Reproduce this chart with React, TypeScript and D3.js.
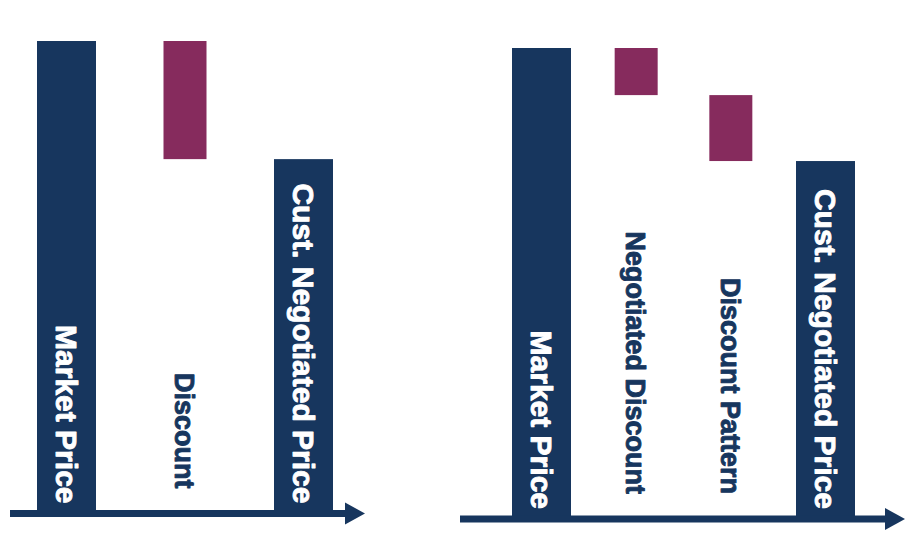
import React from "react";
import * as d3 from "d3";

// Left waterfall: market price less a single discount
const leftCategories = ["Market Price", "Discount", "Cust. Negotiated Price"];
const leftValues = [100, -25, 75];
const leftKinds = ["total", "delta", "total"];

// Right waterfall: discount split into negotiated part and pattern part
const rightCategories = [
  "Market Price",
  "Negotiated Discount",
  "Discount Pattern",
  "Cust. Negotiated Price",
];
const rightValues = [100, -10, -14, 76];
const rightKinds = ["total", "delta", "delta", "total"];

const NAVY = "#17365e";
const PLUM = "#862b5d";
const FONT = "'Liberation Sans', Arial, Helvetica, sans-serif";

type Panel = {
  categories: string[];
  values: number[];
  kinds: string[];
  xRange: [number, number]; // centres of first and last bar
  axisY: number;
  topY: number;
  axisStart: number;
  arrowTip: number;
};

type Step = { name: string; kind: string; lo: number; hi: number };

function waterfall(categories: string[], values: number[], kinds: string[]): Step[] {
  let running = 0;
  return categories.map((name, i) => {
    const v = values[i];
    const kind = kinds[i];
    if (kind === "total") {
      running = v;
      return { name, kind, lo: 0, hi: v };
    }
    const start = running;
    running = start + v;
    return { name, kind, lo: Math.min(start, running), hi: Math.max(start, running) };
  });
}

function WaterfallPanel({ p }: { p: Panel }) {
  const steps = waterfall(p.categories, p.values, p.kinds);
  const x = d3.scalePoint<string>().domain(p.categories).range(p.xRange);
  const y = d3.scaleLinear().domain([0, 100]).range([p.axisY, p.topY]);
  const totalWidth = 59;
  const deltaWidth = 43;
  const lineW = 7;
  const headLen = 20;
  const headHalf = 11;

  return (
    <g>
      {steps.map((s) => {
        const w = s.kind === "total" ? totalWidth : deltaWidth;
        const cx = x(s.name) as number;
        return (
          <rect
            key={s.name}
            x={cx - w / 2}
            y={y(s.hi)}
            width={w}
            height={y(s.lo) - y(s.hi)}
            fill={s.kind === "total" ? NAVY : PLUM}
          />
        );
      })}
      {/* baseline with arrow */}
      <line
        x1={p.axisStart}
        x2={p.arrowTip - headLen + 2}
        y1={p.axisY}
        y2={p.axisY}
        stroke={NAVY}
        strokeWidth={lineW}
      />
      <path
        d={`M${p.arrowTip - headLen},${p.axisY - headHalf} L${p.arrowTip},${p.axisY} L${p.arrowTip - headLen},${p.axisY + headHalf} Z`}
        fill={NAVY}
      />
      {/* rotated category labels */}
      {steps.map((s) => {
        const cx = x(s.name) as number;
        const isTotal = s.kind === "total";
        const size = isTotal ? 30 : 27;
        const endY = isTotal ? p.axisY - 10 : p.axisY - 25;
        const color = isTotal ? "#ffffff" : NAVY;
        return (
          <text
            key={"t" + s.name}
            transform={`translate(${cx},${endY}) rotate(90)`}
            textAnchor="end"
            dy="0.36em"
            fontFamily={FONT}
            fontWeight="bold"
            fontSize={size}
            fill={color}
            stroke={color}
            strokeWidth={0.9}
            strokeLinejoin="round"
          >
            {s.name}
          </text>
        );
      })}
    </g>
  );
}

const leftPanel: Panel = {
  categories: leftCategories,
  values: leftValues,
  kinds: leftKinds,
  xRange: [66.5, 303.5],
  axisY: 513.5,
  topY: 41,
  axisStart: 10,
  arrowTip: 365,
};

const rightPanel: Panel = {
  categories: rightCategories,
  values: rightValues,
  kinds: rightKinds,
  xRange: [541.5, 825.5],
  axisY: 519,
  topY: 48,
  axisStart: 460,
  arrowTip: 905,
};

export default function App() {
  return (
    <svg
      width={924}
      height={552}
      viewBox="0 0 924 552"
      style={{ position: "absolute", left: 0, top: 0, background: "#ffffff" }}
    >
      <rect width={924} height={552} fill="#ffffff" />
      <WaterfallPanel p={leftPanel} />
      <WaterfallPanel p={rightPanel} />
    </svg>
  );
}
